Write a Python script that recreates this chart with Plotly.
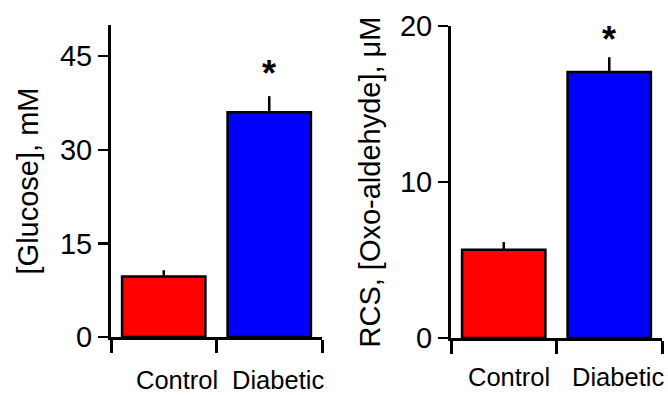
import plotly.graph_objects as go

categories = ["Control", "Diabetic"]
glucose_mean = [9.7, 36.0]
glucose_sem = [1.0, 2.6]
rcs_mean = [5.65, 17.05]
rcs_sem = [0.5, 0.95]
glucose_ticks = [0, 15, 30, 45]
rcs_ticks = [0, 10, 20]
significant = ["", "*"]
bar_colors = ["#ff0000", "#0000ff"]

FONT = "Liberation Sans, Arial, sans-serif"
bar_pos = [0.5, 1.5]

fig = go.Figure()


def add_bars(xa, ya, means, sems):
    fig.add_trace(go.Bar(
        x=bar_pos, y=means, width=0.79,
        marker=dict(color=bar_colors, line=dict(color="black", width=2.5)),
        error_y=dict(type="data", array=sems, arrayminus=[0] * len(sems),
                     symmetric=False, color="black", thickness=2.5, width=0),
        xaxis=xa, yaxis=ya, showlegend=False, hoverinfo="skip",
    ))


add_bars("x", "y", glucose_mean, glucose_sem)
add_bars("x2", "y2", rcs_mean, rcs_sem)

xcommon = dict(range=[0, 2], showline=True, linewidth=3, linecolor="black",
               tickvals=[0, 1, 2], ticks="outside", ticklen=13, tickwidth=3,
               tickcolor="black", showticklabels=False, showgrid=False,
               zeroline=False, fixedrange=True, automargin=False)
ycommon = dict(showline=True, linewidth=3, linecolor="black", ticks="outside",
               ticklen=10, tickwidth=2.5, tickcolor="black", showgrid=False,
               zeroline=False, automargin=False, fixedrange=True,
               tickfont=dict(family=FONT, size=29, color="black"),
               title_font=dict(family=FONT, size=29, color="black"))

fig.update_layout(
    width=668, height=395,
    margin=dict(l=0, r=0, t=0, b=0, pad=0),
    paper_bgcolor="white", plot_bgcolor="white",
    font=dict(family=FONT, color="black"),
    bargap=0,
    xaxis=dict(domain=[111 / 668, 322 / 668], anchor="y", **xcommon),
    xaxis2=dict(domain=[451 / 668, 662 / 668], anchor="y2", **xcommon),
    yaxis=dict(domain=[58 / 395, 370 / 395], anchor="x", range=[0, 50],
               tickvals=glucose_ticks, title=dict(text="[Glucose], mM", standoff=13),
               **ycommon),
    yaxis2=dict(domain=[57 / 395, 369 / 395], anchor="x2", range=[0, 20],
                tickvals=rcs_ticks, title=dict(text="RCS, [Oxo-aldehyde], μM", standoff=11),
                **ycommon),
)

label_x = [[0.63, 1.58], [0.55, 1.58]]
label_y = [0.038, 0.046]
star_shift = [0, -5]
annos = []
for k, (xr, yr, means, sems) in enumerate([("x", "y", glucose_mean, glucose_sem),
                                            ("x2", "y2", rcs_mean, rcs_sem)]):
    for i, cat in enumerate(categories):
        annos.append(dict(x=label_x[k][i], xref=xr, y=label_y[k], yref="paper", text=cat,
                          showarrow=False, font=dict(family=FONT, size=25.5, color="black"),
                          xanchor="center", yanchor="middle"))
        if significant[i]:
            annos.append(dict(x=bar_pos[i], xref=xr, y=means[i] + sems[i], yshift=star_shift[k],
                              yref=yr, text="<b>" + significant[i] + "</b>", showarrow=False,
                              font=dict(family=FONT, size=36, color="black"),
                              xanchor="center", yanchor="bottom"))
fig.update_layout(annotations=annos)

fig.write_html("out.html", config={"displayModeBar": False, "staticPlot": True},
               post_script="document.body.style.margin='0px';document.body.style.overflow='hidden';")
